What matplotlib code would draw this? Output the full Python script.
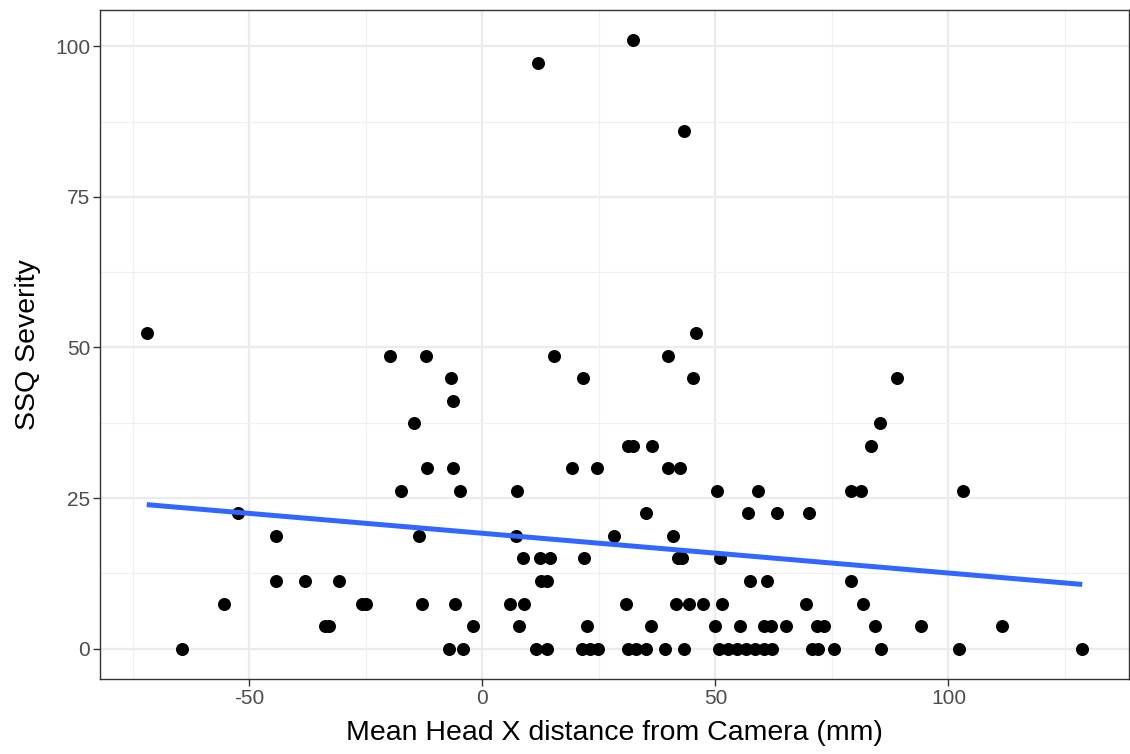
import numpy as np
import matplotlib
matplotlib.use("Agg")
import matplotlib.pyplot as plt
from matplotlib.ticker import FixedLocator

# SSQ severity levels (multiples of 3.74) and head X distances
y_52 = [-72.0, 45.9]
y_49 = [-19.8, -12.1, 15.3, 39.9]
y_45 = [-6.8, 21.5, 45.1, 88.9]
y_41 = [-6.2]
y_37 = [-14.6, 85.4]
y_34 = [31.3, 32.4, 36.5, 83.4]
y_30 = [-11.9, -6.4, 19.3, 24.5, 39.9, 42.4]
y_26 = [-17.5, -4.8, 7.5, 50.3, 59.2, 79.1, 81.2, 103.2]
y_22 = [-52.5, 35.1, 56.9, 63.3, 70.1]
y_19 = [-44.2, -13.7, 7.3, 28.3, 40.9]
y_15 = [8.7, 12.4, 14.6, 21.8, 41.9, 42.9, 51.0]
y_11 = [-44.3, -38.1, -30.8, 12.6, 13.9, 57.4, 61.1, 79.1]
y_7 = [-55.5, -25.9, -24.9, -13.0, -5.8, 6.0, 8.9, 30.9, 41.6, 44.4, 47.3,
       51.5, 69.4, 81.7]
y_4 = [-33.8, -33.0, -2.0, 7.8, 22.5, 36.2, 50.0, 55.3, 60.4, 61.9, 65.1,
       71.9, 73.4, 84.2, 94.1, 111.4]
y_0 = [-64.5, -7.1, -4.1, 11.5, 13.9, 21.3, 23.1, 24.9, 31.3, 33.0, 35.2,
       39.1, 43.3, 50.8, 52.7, 54.6, 56.6, 58.5, 60.4, 62.2, 70.8, 72.1,
       75.4, 85.6, 102.2, 128.7]
y_86 = [43.3]
y_97 = [11.9]
y_101 = [32.4]

groups = [
    (52.36, y_52), (48.62, y_49), (44.88, y_45), (41.14, y_41), (37.40, y_37),
    (33.66, y_34), (29.92, y_30), (26.18, y_26), (22.44, y_22), (18.70, y_19),
    (14.96, y_15), (11.22, y_11), (7.48, y_7), (3.74, y_4), (0.0, y_0),
    (86.02, y_86), (97.24, y_97), (100.98, y_101),
]

x = np.array([xv for lvl, xs in groups for xv in xs])
y = np.array([lvl for lvl, xs in groups for _ in xs])

x_ticks = [-50, 0, 50, 100]
y_ticks = [0, 25, 50, 75, 100]

plt.rcParams['font.family'] = ['Liberation Sans', 'DejaVu Sans']
plt.rcParams['axes.unicode_minus'] = False

fig = plt.figure(figsize=(11.3, 7.54), dpi=100)
ax = fig.add_axes([100 / 1130, 1 - 679 / 754, 1029 / 1130, 669 / 754])

ax.scatter(x, y, s=88, color='black', zorder=3, linewidths=0)

# linear fit (geom_smooth method = "lm", se = FALSE)
slope, intercept = np.polyfit(x, y, 1)
xl = np.array([x.min(), x.max()])
ax.plot(xl, intercept + slope * xl, color='#3366FF', lw=3.6, zorder=4,
        solid_capstyle='butt')

xr = x.max() - x.min()
yr = y.max() - y.min()
ax.set_xlim(x.min() - 0.05 * xr, x.max() + 0.05 * xr)
ax.set_ylim(y.min() - 0.05 * yr, y.max() + 0.05 * yr)

ax.xaxis.set_major_locator(FixedLocator(x_ticks))
ax.yaxis.set_major_locator(FixedLocator(y_ticks))
ax.xaxis.set_minor_locator(FixedLocator([-75, -25, 25, 75, 125]))
ax.yaxis.set_minor_locator(FixedLocator([12.5, 37.5, 62.5, 87.5]))

ax.grid(which='major', color='#EBEBEB', lw=1.6, zorder=0)
ax.grid(which='minor', color='#F0F0F0', lw=0.9, zorder=0)
ax.set_axisbelow(True)

for sp in ax.spines.values():
    sp.set_color('#333333')
    sp.set_linewidth(1.0)

ax.tick_params(which='major', length=5, width=1.0, color='#333333',
               labelsize=15, labelcolor='#4D4D4D', pad=2)
ax.tick_params(which='minor', length=0)

ax.set_xlabel('Mean Head X distance from Camera (mm)', fontsize=20.5,
              color='black', labelpad=9)
ax.set_ylabel('SSQ Severity', fontsize=20.5, color='black', labelpad=10)

fig.savefig('out.png', dpi=100, facecolor='white')
